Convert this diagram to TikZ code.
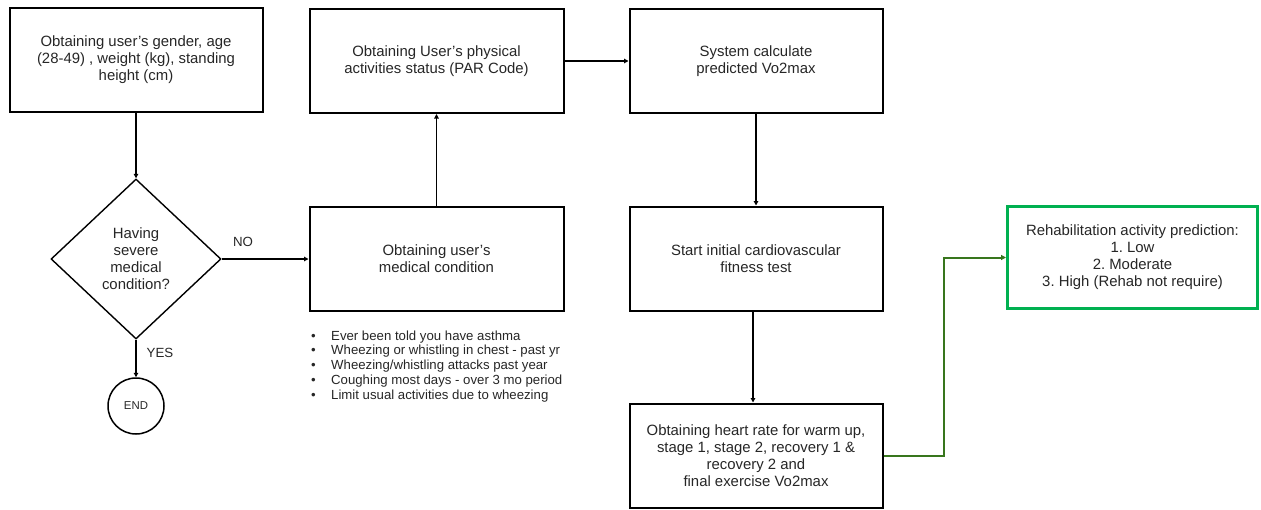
\documentclass[tikz,border=0pt]{standalone}
\usepackage{fontspec}
\setmainfont{Liberation Sans}
\usetikzlibrary{shapes.geometric,arrows.meta,calc}
\definecolor{txt}{RGB}{38,38,38}
\definecolor{boxgreen}{RGB}{0,176,80}
\definecolor{linkgreen}{RGB}{56,118,29}
\frenchspacing
\newcommand\boxfont{\fontsize{14.9}{17}\selectfont}
\newcommand\listfont{\fontsize{13.2}{14.7}\selectfont}
\newcommand\lblfont{\fontsize{13.3}{15}\selectfont}
\newcommand\itm[1]{\makebox[20pt][l]{\textbullet}#1}
\tikzset{
  stepbox/.style={draw=black, line width=2pt, rectangle, align=center,
    text=txt, font=\boxfont, minimum width=253pt, minimum height=104pt, inner sep=2pt},
  decision/.style={draw=black, line width=1.4pt, diamond, align=center,
    text=txt, font=\boxfont, minimum width=170pt, minimum height=160pt, inner sep=0pt},
  terminal/.style={draw=black, line width=1.5pt, circle, text=txt,
    font=\fontsize{11.4}{13}\selectfont, minimum size=56pt, inner sep=0pt},
  result/.style={draw=boxgreen, line width=3pt, rectangle, align=center,
    text=txt, font=\boxfont, minimum width=250pt, minimum height=102pt, inner sep=2pt},
  arr/.style={draw=black, line width=1.3pt, -{Triangle[length=4.5pt,width=4.5pt]}},
  garr/.style={draw=linkgreen, line width=2pt, -{Triangle[length=5pt,width=5pt]}},
  lbl/.style={text=txt, font=\lblfont, inner sep=0pt}
}
\begin{document}
\begin{tikzpicture}[x=1pt,y=-1pt]
\useasboundingbox (0,0) rectangle (1261,509);

% process boxes
\node[stepbox] (profile) at (136,60) {Obtaining user’s gender, age\\(28-49) , weight (kg), standing\\height (cm)};
\node[stepbox, minimum width=254pt] (activity) at (436.5,61) {Obtaining User’s physical\\activities status (PAR Code)};
\node[stepbox] (predict) at (756,61) {System calculate\\predicted Vo2max};
\node[stepbox, minimum width=254pt] (medical) at (436.5,258.5) {Obtaining user’s\\medical condition};
\node[stepbox] (cardio) at (756,258.5) {Start initial cardiovascular\\fitness test};
\node[stepbox] (heart) at (756,455.5) {Obtaining heart rate for warm up,\\stage 1, stage 2, recovery 1 \&\\recovery 2 and\\final exercise Vo2max};
\node[result] (rehab) at (1132.5,257.5) {Rehabilitation activity prediction:\\1. Low\\2. Moderate\\3. High (Rehab not require)};

% decision and end
\node[decision] (severe) at (136,259) {Having\\severe\\medical\\condition?};
\node[terminal] (stop) at (136,406) {END};

% medical condition checklist
\node[anchor=north west, inner sep=0pt, align=left, text=txt, font=\listfont] (asthma) at (311,330.5)
  {\itm{Ever been told you have asthma}\\
   \itm{Wheezing or whistling in chest - past yr}\\
   \itm{Wheezing/whistling attacks past year}\\
   \itm{Coughing most days - over 3 mo period}\\
   \itm{Limit usual activities due to wheezing}};

% branch labels
\node[lbl] (no) at (243,242) {NO};
\node[lbl] (yes) at (160,353) {YES};

% connectors
\draw[arr] (profile) -- (severe);
\draw[arr] (severe.east) -- (severe.east -| medical.west);
\draw[arr] (severe) -- (stop);
\draw[arr] (medical) -- (activity);
\draw[arr] (activity.east) -- (activity.east -| predict.west);
\draw[arr] (predict) -- (cardio);
\draw[arr] ([xshift=-3pt]cardio.south) -- ([xshift=-3pt]heart.north);
\coordinate (elbow) at (944,455.5);
\draw[garr] (heart.east) -- (elbow) -- (elbow |- rehab.west) -- (rehab.west);
\end{tikzpicture}
\end{document}
